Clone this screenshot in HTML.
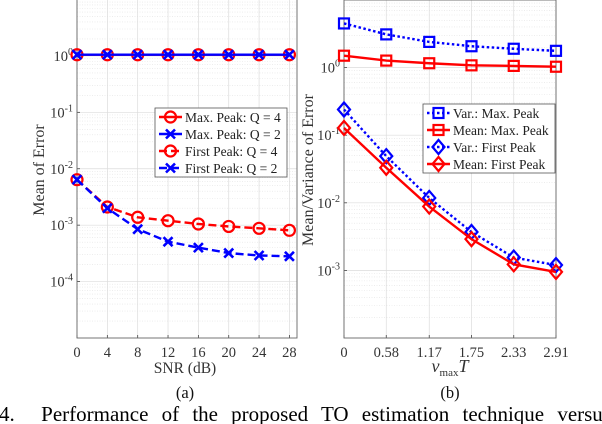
<!DOCTYPE html>
<html><head><meta charset="utf-8"><style>
body{margin:0;background:#fff;width:602px;height:424px;overflow:hidden}
svg{display:block;font-family:"Liberation Serif",serif}
</style></head><body>
<svg id="c" width="602" height="424"></svg>
<script>
const snrTicks=[0,4,8,12,16,20,24,28];
const maxQ4=[1.05,1.05,1.05,1.05,1.05,1.05,1.05,1.05];
const maxQ2=[1.05,1.05,1.05,1.05,1.05,1.05,1.05,1.05];
const firstQ4=[0.0064,0.0021,0.00138,0.0012,0.00105,0.00095,0.00088,0.00081];
const firstQ2=[0.0064,0.002,0.00085,0.00051,0.0004,0.00032,0.00029,0.00028];
const nuTicks=[0,0.58,1.17,1.75,2.33,2.91];
const varMax=[4.5,3.1,2.4,2.07,1.9,1.77];
const meanMax=[1.5,1.27,1.16,1.08,1.06,1.03];
const varFirst=[0.24,0.049,0.0118,0.0037,0.00155,0.0012];
const meanFirst=[0.128,0.033,0.0088,0.0029,0.00123,0.00095];
const leftYTicks=[0,-1,-2,-3,-4];
const rightYTicks=[0,-1,-2,-3];

const NS="http://www.w3.org/2000/svg";
const svg=document.getElementById('c');
function el(t,a,p){const e=document.createElementNS(NS,t);for(const k in a)e.setAttribute(k,a[k]);(p||svg).appendChild(e);return e;}

function panel(o){
  const g=el('g',{});
  
  
  const X=v=>o.x0+(v-o.xmin)/(o.xmax-o.xmin)*(o.x1-o.x0);
  const Y=v=>o.y1-(Math.log10(v)-o.lmin)/(o.lmax-o.lmin)*(o.y1-o.y0);
  for(let d=o.lmin;d<o.lmax;d++)for(let m=2;m<10;m++){const y=Y(m*Math.pow(10,d));el('line',{x1:o.x0,x2:o.x1,y1:y,y2:y,stroke:'#e2e2e2','stroke-width':0.6,'stroke-dasharray':'1,1.5'},g);}
  for(let d=o.lmin+1;d<o.lmax;d++){const y=Y(Math.pow(10,d));el('line',{x1:o.x0,x2:o.x1,y1:y,y2:y,stroke:'#dcdcdc','stroke-width':0.7},g);}
  o.xt.forEach(v=>{const x=X(v);el('line',{x1:x,x2:x,y1:o.y0,y2:o.y1,stroke:'#dcdcdc','stroke-width':0.7},g);
    el('line',{x1:x,x2:x,y1:o.y1,y2:o.y1-3,stroke:'#444','stroke-width':0.8},g);
    const t=el('text',{x:x,y:357,'text-anchor':'middle','font-size':14.5,fill:'#333'},g);t.textContent=o.xl(v);
    });
  o.yt.forEach(d=>{const y=Y(Math.pow(10,d));
    el('line',{x1:o.x0,x2:o.x0+3,y1:y,y2:y,stroke:'#444','stroke-width':0.8},g);
    const t=el('text',{x:o.x0-4,y:y+5,'text-anchor':'end','font-size':14.5,fill:'#333'},g);
    t.innerHTML='10<tspan dy="-6" font-size="10">'+d+'</tspan>';
    });
  el('rect',{x:o.x0,y:o.y0,width:o.x1-o.x0,height:o.y1-o.y0,fill:'none',stroke:'#666','stroke-width':0.9},g);
  o.series.forEach(s=>{
    const sg=el('g',{},g);
    
    const pts=s.v.map((v,i)=>[X(o.xs[i]),Y(v)]);
    el('polyline',{points:pts.map(p=>p.join(',')).join(' '),fill:'none',stroke:s.c,'stroke-width':2.4,'stroke-dasharray':s.dash||''},sg);
    pts.forEach(p=>marker(sg,s.m,p[0],p[1],s.c));
  });
  const L=o.leg;
  const lg=el('g',{},g);
  el('rect',{x:L.x,y:L.y,width:L.w,height:L.h,fill:'#fff',stroke:'#555','stroke-width':0.8},lg);
  o.series.forEach((s,i)=>{const y=L.y+9+i*17;
    const e=el('g',{},lg);
    el('line',{x1:L.x+4,x2:L.x+27,y1:y,y2:y,stroke:s.c,'stroke-width':2.4,'stroke-dasharray':s.dash||''},e);
    marker(e,s.m,L.x+15.5,y,s.c);
    const t=el('text',{x:L.x+30,y:y+5,'font-size':13.5,fill:'#222'},e);t.textContent=s.label;});
}
function marker(g,m,x,y,c){
  if(m==='o')el('circle',{cx:x,cy:y,r:5.5,fill:'none',stroke:c,'stroke-width':2.2},g);
  else if(m==='x'){el('path',{d:`M${x-4.5},${y-4.5}L${x+4.5},${y+4.5}M${x-4.5},${y+4.5}L${x+4.5},${y-4.5}`,stroke:c,'stroke-width':2.6},g);}
  else if(m==='s')el('rect',{x:x-5,y:y-5,width:10,height:10,fill:'none',stroke:c,'stroke-width':2.2},g);
  else if(m==='d')el('path',{d:`M${x},${y-7}L${x+6},${y}L${x},${y+7}L${x-6},${y}Z`,fill:'none',stroke:c,'stroke-width':2.2},g);
}
panel({name:'chart-a',x0:77,x1:297,y0:-0.5,y1:338,xmin:0,xmax:29,lmin:-5,lmax:1,xs:snrTicks,xt:snrTicks,xl:v=>v,yt:leftYTicks,
 leg:{x:155,y:108,w:132,h:69},
 series:[
  {name:'series-max-peak-q4',label:'Max. Peak: Q = 4',v:maxQ4,c:'#f00',m:'o'},
  {name:'series-max-peak-q2',label:'Max. Peak: Q = 2',v:maxQ2,c:'#00f',m:'x'},
  {name:'series-first-peak-q4',label:'First Peak: Q = 4',v:firstQ4,c:'#f00',m:'o',dash:'8,4'},
  {name:'series-first-peak-q2',label:'First Peak: Q = 2',v:firstQ2,c:'#00f',m:'x',dash:'8,4'}]});
panel({name:'chart-b',x0:344,x1:556,y0:0,y1:338,xmin:0,xmax:2.91,lmin:-4,lmax:1,xs:nuTicks,xt:nuTicks,xl:v=>v,yt:rightYTicks,
 leg:{x:423,y:104,w:132,h:69},
 series:[
  {name:'series-var-max-peak',label:'Var.: Max. Peak',v:varMax,c:'#00f',m:'s',dash:'2.5,2.5'},
  {name:'series-mean-max-peak',label:'Mean: Max. Peak',v:meanMax,c:'#f00',m:'s'},
  {name:'series-var-first-peak',label:'Var.: First Peak',v:varFirst,c:'#00f',m:'d',dash:'2.5,2.5'},
  {name:'series-mean-first-peak',label:'Mean: First Peak',v:meanFirst,c:'#f00',m:'d'}]});
function txt(s,a,name){const t=el('text',a);t.innerHTML=s;return t;}
txt('SNR (dB)',{x:185,y:373,'text-anchor':'middle','font-size':15.5,fill:'#333'},'x-axis-title-a');
txt('(a)',{x:185,y:398,'text-anchor':'middle','font-size':16.5,fill:'#111'},'subcaption-a');
txt('<tspan font-style="italic">ν</tspan><tspan dy="4" font-size="11">max</tspan><tspan dy="-4" font-style="italic">T</tspan>',{x:450,y:372,'text-anchor':'middle','font-size':18,fill:'#333'},'x-axis-title-b');
txt('(b)',{x:450,y:398,'text-anchor':'middle','font-size':16.5,fill:'#111'},'subcaption-b');
txt('Mean of Error',{x:0,y:0,transform:'translate(44,170) rotate(-90)','text-anchor':'middle','font-size':16,fill:'#333'},'y-axis-title-a');
txt('Mean/Variance of Error',{x:0,y:0,transform:'translate(313,170) rotate(-90)','text-anchor':'middle','font-size':16,fill:'#333'},'y-axis-title-b');
const cap=txt('4.&#160;&#160;Performance of the proposed TO estimation technique versus',{x:-1,y:421,'font-size':21,fill:'#000'},'figure-caption');
const w=cap.getComputedTextLength();
const gaps=9;
const target=612;
if(w<target)cap.setAttribute('word-spacing',((target-w)/gaps).toFixed(2));
</script>
</body></html>
